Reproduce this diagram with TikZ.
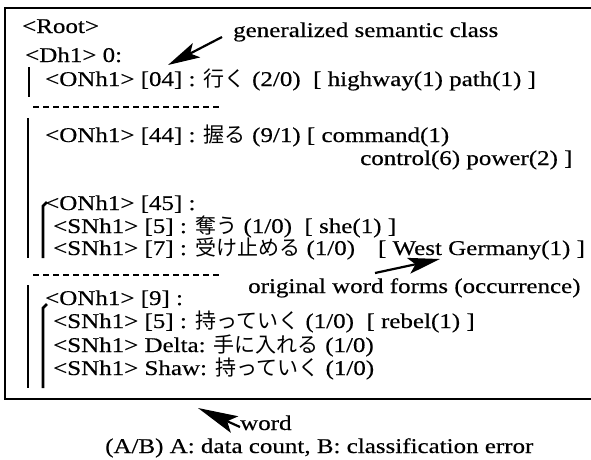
\documentclass[tikz,border=0pt]{standalone}
\usepackage{fontspec}
\setmainfont{Liberation Serif}[FakeStretch=1.19, FakeBold=0.4]
\newfontfamily\jpfont{Noto Sans CJK JP}
\newcommand\ja[1]{{\fontsize{21}{23}\jpfont #1}}
\usetikzlibrary{arrows.meta}
\tikzset{
  entry/.style={anchor=base west, inner sep=0pt, font=\fontsize{21}{23}\selectfont},
  level/.style={line width=2.8pt},
  divider/.style={line width=2.2pt, dash pattern=on 6pt off 4pt},
  pointer/.style={line width=2.2pt, -{Stealth[length=32pt,width=16pt,inset=7pt]}},
}
\begin{document}
\begin{tikzpicture}[x=1pt, y=-1pt]
  \useasboundingbox (0,0) rectangle (591,459);
  % frame
  \draw[line width=2.8pt] (591,8) -- (5,8) -- (5,399) -- (591,399);
  % tree
  \node[entry] (Root) at (22,33) {<Root>};
  \node[entry] (Dh) at (25,62) {<Dh1> 0:};
  \node[entry] (On04) at (45,86) {<ONh1> [04] : \ja{行く} (2/0) \ [ highway(1) path(1) ]};
  \node[entry] (On44) at (45,142) {<ONh1> [44] : \ja{握る} (9/1) [ command(1)};
  \node[entry] (On44b) at (360,165) {control(6) power(2) ]};
  \node[entry] (On45) at (45,210) {<ONh1> [45] :};
  \node[entry] (Sn5a) at (53,233) {<SNh1> [5] : \ja{奪う} (1/0) \ [ she(1) ]};
  \node[entry] (Sn7) at (53,255) {<SNh1> [7] : \ja{受け止める} (1/0) \enspace\ [ West Germany(1) ]};
  \node[entry] (On9) at (45,305) {<ONh1> [9] :};
  \node[entry] (Sn5b) at (53,328) {<SNh1> [5] : \ja{持っていく} (1/0) \ [ rebel(1) ]};
  \node[entry] (SnDelta) at (53,352) {<SNh1> Delta: \ja{手に入れる} (1/0)};
  \node[entry] (SnShaw) at (53,375) {<SNh1> Shaw: \ja{持っていく} (1/0)};
  % level bars
  \draw[level] (29,67) -- (29,97);
  \draw[level] (28,118) -- (28,258);
  \draw[level] (47,202) -- (43,206) -- (43,258);
  \draw[level] (28,285) -- (28,388);
  \draw[level] (47,304) -- (43,308) -- (43,388);
  \draw[divider] (33,107) -- (220,107);
  \draw[divider] (33,275) -- (220,275);
  % notes
  \node[entry] (GenClass) at (233,37) {generalized semantic class};
  \node[entry] (OrigForm) at (248,293) {original word forms (occurrence)};
  \node[entry] (Word) at (240,430) {word};
  \node[entry] (Legend) at (105,453) {(A/B) A: data count, B: classification error};
  \coordinate (GenTail) at (222,37);
  \coordinate (GenTip) at (168,65);
  \coordinate (OrigTail) at (375,273);
  \coordinate (OrigTip) at (440,259);
  \coordinate (WordTail) at (240,427);
  \coordinate (WordTip) at (198,408);
  \draw[pointer] (GenTail) -- (GenTip);
  \draw[pointer] (OrigTail) -- (OrigTip);
  \draw[pointer, -{Stealth[length=40pt,width=18pt,inset=8pt]}] (WordTail) -- (WordTip);
\end{tikzpicture}
\end{document}
